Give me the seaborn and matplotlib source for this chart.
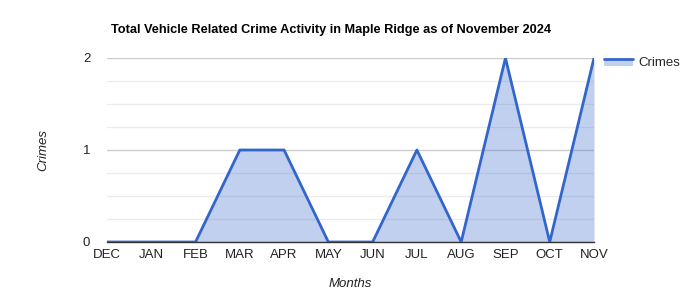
import matplotlib
matplotlib.use("Agg")
import matplotlib.pyplot as plt
import seaborn as sns
import pandas as pd
from matplotlib.ticker import FixedLocator, MultipleLocator
from matplotlib.lines import Line2D
from matplotlib.patches import Rectangle
from matplotlib.legend_handler import HandlerBase

months = ["DEC", "JAN", "FEB", "MAR", "APR", "MAY", "JUN", "JUL", "AUG", "SEP", "OCT", "NOV"]
crimes = [0, 0, 0, 1, 1, 0, 0, 1, 0, 2, 0, 2]
y_ticks = [0, 1, 2]

df = pd.DataFrame({"idx": range(len(months)), "month": months, "Crimes": crimes})

sns.set_style("white")
plt.rcParams["font.family"] = ["Liberation Sans", "DejaVu Sans"]

fig = plt.figure(figsize=(7, 3), dpi=100)
ax = fig.add_axes([107/700, 58/300, (594-107)/700, (242-58)/300])

line_color = "#3366CC"
ax.fill_between(df["idx"], 0, df["Crimes"], color=line_color, alpha=0.3, linewidth=0, zorder=2)
sns.lineplot(data=df, x="idx", y="Crimes", ax=ax, color=line_color, linewidth=2, zorder=3)

ax.set_xlim(0, len(months) - 1)
ax.set_ylim(0, 2)
ax.set_xticks(df["idx"])
ax.set_xticklabels(months)
ax.yaxis.set_major_locator(FixedLocator(y_ticks))
ax.yaxis.set_minor_locator(MultipleLocator(0.25))
ax.grid(which="major", axis="y", color="#cccccc", linewidth=1, zorder=0)
ax.grid(which="minor", axis="y", color="#ebebeb", linewidth=1, zorder=0)
ax.grid(False, axis="x")
for s in ["top", "right", "left"]:
    ax.spines[s].set_visible(False)
ax.spines["bottom"].set_color("#333333")
ax.spines["bottom"].set_linewidth(1)
ax.spines["bottom"].set_zorder(4)
ax.tick_params(axis="both", which="both", length=0, labelsize=9.5, colors="#222222")
ax.tick_params(axis="x", pad=5)
ax.tick_params(axis="y", pad=12)

ax.set_xlabel("Months", fontsize=9.5, fontstyle="italic", color="#222222", labelpad=12)
ax.set_ylabel("Crimes", fontsize=9.5, fontstyle="italic", color="#222222", labelpad=24)

fig.text(111/700, 1 - 30/300, "Total Vehicle Related Crime Activity in Maple Ridge as of November 2024",
         fontsize=9.2, fontweight="bold", ha="left", va="center", color="#000000")


class AreaHandler(HandlerBase):
    def create_artists(self, legend, orig_handle, xdescent, ydescent, width, height, fontsize, trans):
        top = height * 0.75
        rect = Rectangle((-xdescent, -ydescent), width, top, facecolor=line_color, alpha=0.3,
                         linewidth=0, transform=trans)
        ln = Line2D([-xdescent, -xdescent + width], [-ydescent + top, -ydescent + top],
                    color=line_color, linewidth=2, transform=trans)
        return [rect, ln]


proxy = Rectangle((0, 0), 1, 1)
leg = ax.legend([proxy], ["Crimes"], handler_map={Rectangle: AreaHandler()},
                loc="upper left", bbox_to_anchor=(1.01, 1.035), frameon=False,
                fontsize=9.5, handlelength=2.2, handletextpad=0.4, borderaxespad=0)

fig.savefig("out.png", dpi=100)
